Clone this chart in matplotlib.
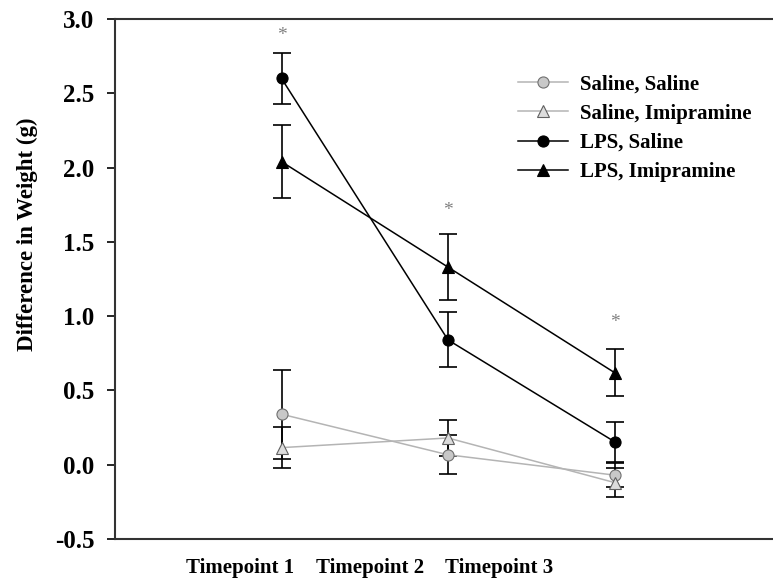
import matplotlib.pyplot as plt

plt.rcParams['font.family'] = ['Liberation Serif', 'DejaVu Serif']
plt.rcParams['font.weight'] = 'bold'

timepoints = ['Timepoint 1', 'Timepoint 2', 'Timepoint 3']
x_pos = [1, 2, 3]
# labels in the source sit left of the data columns
label_pos = [0.75, 1.53, 2.31]

sal_sal = [0.34, 0.067, -0.07]
sal_sal_err = [0.30, 0.13, 0.08]
sal_imi = [0.115, 0.18, -0.12]
sal_imi_err = [0.14, 0.12, 0.10]
lps_sal = [2.60, 0.84, 0.155]
lps_sal_err = [0.17, 0.185, 0.135]
lps_imi = [2.04, 1.33, 0.62]
lps_imi_err = [0.245, 0.22, 0.16]

star_y = [2.89, 1.71, 0.96]

fig = plt.figure(figsize=(7.73, 5.84), dpi=100)
ax = fig.add_axes([115 / 773, 45 / 584, 660 / 773, 520 / 584])

grey_line = '#b4b4b4'
series = [
    (sal_sal, sal_sal_err, 'o', grey_line, '#c8c8c8', '#707070', 'Saline, Saline'),
    (sal_imi, sal_imi_err, '^', grey_line, '#dcdcdc', '#606060', 'Saline, Imipramine'),
    (lps_sal, lps_sal_err, 'o', 'black', 'black', 'black', 'LPS, Saline'),
    (lps_imi, lps_imi_err, '^', 'black', 'black', 'black', 'LPS, Imipramine'),
]
for vals, errs, mk, lc, fc, ec, lab in series:
    ax.errorbar(x_pos, vals, yerr=errs, fmt='none', ecolor='black',
                elinewidth=1.2, capsize=6.5, capthick=1.2, zorder=2)
    ax.plot(x_pos, vals, color=lc, lw=1.1, marker=mk, ms=8,
            mfc=fc, mec=ec, mew=0.8, label=lab, zorder=3)

for x, y in zip(x_pos, star_y):
    ax.text(x, y, '*', ha='center', va='center', fontsize=14,
            color='#808080', fontweight='normal')

ax.set_xlim(0, 660 / 166.5)
ax.set_ylim(-0.5, 3.0)
ax.set_yticks([-0.5, 0.0, 0.5, 1.0, 1.5, 2.0, 2.5, 3.0])
ax.set_yticklabels(['-0.5', '0.0', '0.5', '1.0', '1.5', '2.0', '2.5', '3.0'])
ax.set_xticks(label_pos)
ax.set_xticklabels(timepoints)
ax.tick_params(axis='x', length=0, pad=14, labelsize=15)
ax.tick_params(axis='y', direction='out', length=6, width=1.2, labelsize=18, pad=9)
ax.spines['right'].set_visible(False)
for s in ['left', 'top', 'bottom']:
    ax.spines[s].set_linewidth(1.5)
    ax.spines[s].set_color('#333333')

ax.set_ylabel('Difference in Weight (g)', fontsize=16.5, fontweight='bold')
ax.yaxis.set_label_coords(-0.116, 0.587)

leg = ax.legend(loc='upper left', bbox_to_anchor=(0.582, 0.93), frameon=False,
                fontsize=15, handlelength=2.4, labelspacing=0.45, handletextpad=0.6)
for t in leg.get_texts():
    t.set_fontweight('bold')

fig.savefig('out.png', dpi=100)
